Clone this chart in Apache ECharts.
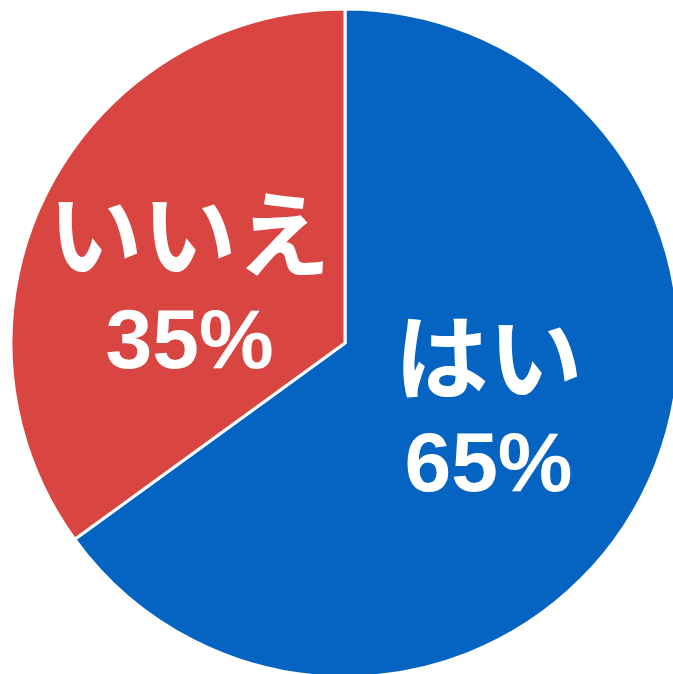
<!DOCTYPE html>
<html><head><meta charset="utf-8">
<script src="https://cdn.jsdelivr.net/npm/echarts@6/dist/echarts.min.js"></script>
<style>html,body{margin:0;padding:0;background:#fff}#c{width:673px;height:674px}</style>
</head><body><div id="c"></div>
<script>
const categories = ['はい', 'いいえ'];
const values = [65, 35];
const colors = ['#0563C1', '#D94541'];
const shifts = [[-8, -9], [-4, 22]];

const chart = echarts.init(document.getElementById('c'));
chart.setOption({
  animation: false,
  series: [{
    type: 'pie',
    center: [345, 343],
    radius: [0, 334],
    startAngle: 90,
    clockwise: true,
    data: categories.map((n, i) => ({ name: n, value: values[i], itemStyle: { color: colors[i] } })),
    itemStyle: { borderColor: '#fff', borderWidth: 3 },
    label: {
      show: true,
      position: 'inside',
      formatter: '{n|{b}}\n{p|{c}%}',
      color: '#fff',
      rich: {
        n: { fontSize: 94, fontWeight: 'bold', fontFamily: 'Noto Sans CJK JP', color: '#fff', lineHeight: 114, align: 'center' },
        p: { fontSize: 84, fontWeight: 'bold', fontFamily: 'Liberation Sans', color: '#fff', lineHeight: 108, align: 'center' }
      }
    },
    labelLine: { show: false },
    labelLayout: function (params) {
      return { dx: shifts[params.dataIndex][0], dy: shifts[params.dataIndex][1] };
    }
  }]
});
</script></body></html>
